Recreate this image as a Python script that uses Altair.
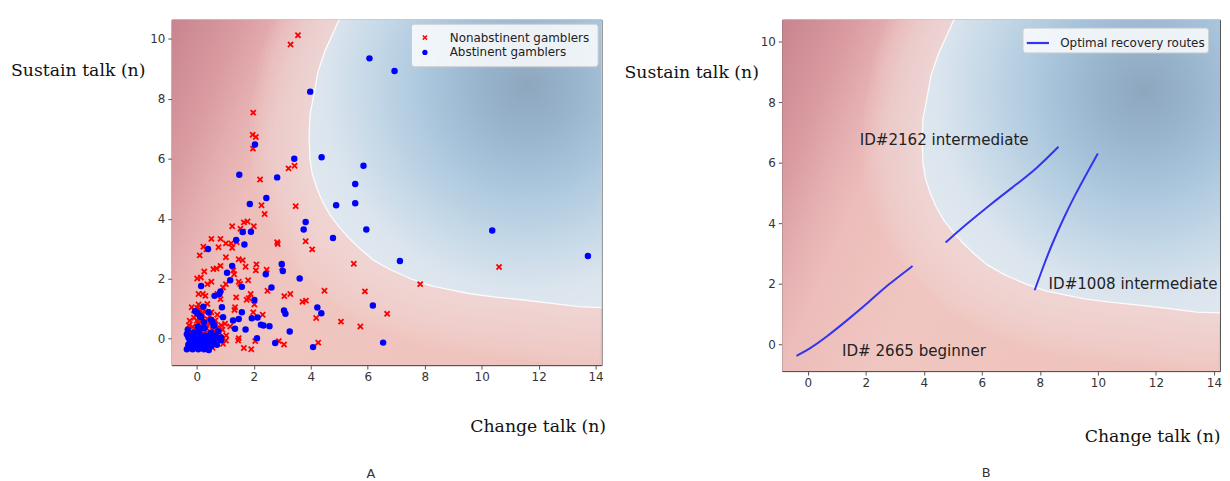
import altair as alt
import pandas as pd

# ---------------- data ----------------
X_DOMAIN = [-0.88, 14.21]
Y_DOMAIN_A = [-0.88, 10.64]
Y_DOMAIN_B = [-0.88, 10.73]
X_TICKS = [0, 2, 4, 6, 8, 10, 12, 14]
Y_TICKS = [0, 2, 4, 6, 8, 10]

# decision boundary (top to bottom)
boundary_x = [5.06, 4.8, 4.5, 4.25, 4.12, 3.97, 3.94, 3.97, 4.05, 4.22, 4.42, 4.68, 5.0,
              5.35, 5.75, 6.2, 6.8, 7.5, 8.2, 8.9, 9.6, 10.5, 11.4, 12.4, 13.4, 14.21]
boundary_y = [10.78, 10.23, 9.6, 8.9, 8.2, 7.45, 6.7, 6.0, 5.5, 5.0, 4.55, 4.12, 3.72,
              3.35, 2.98, 2.62, 2.3, 2.0, 1.77, 1.63, 1.5, 1.39, 1.3, 1.19, 1.07, 1.04]
BLUE_CENTER = [11.6, 8.4]

nonab_x = [3.55, 3.29, 1.98, 1.96, 2.07, 1.97, 3.22, 3.43, 2.22, 2.27, 2.38, 3.47, 3.82, 4.05,
           2.82, 2.84, 5.51, 10.61, 7.84, 5.90, 4.48, 3.83, 3.71, 3.28, 3.07, 6.68, 4.19, 5.06,
           5.74, 4.26, 3.06, 2.88, 1.91, 1.65, 2.05, 1.47, 1.45, 2.31, 2.99, 2.45, 2.09, 2.07,
           2.48, 1.89, 1.82, 1.75, 1.47, 1.52, 1.80, 1.71, 1.47, 1.61, 1.31, 1.28, 1.38, 1.34,
           1.02, 0.99, 1.17, 1.32, 2.02, 1.98, 1.24, 1.40, 1.20, 1.02, 1.61, 1.53, 1.65, 1.78,
           1.24, 2.00, 1.02, 0.51, 0.83, 0.76, 0.23, 0.34, 0.10, 0.83, 0.69, 0.58, 0.26, 0.01,
           0.14, 0.37, 0.51, 0.21, 0.06, 0.30, 0.72, 0.92, 0.83, -0.18, 0.06, 0.10, 0.37, 0.51,
           0.72, 0.65, 0.23, 0.44, 0.72, 0.85, 1.03, 1.02, 0.92,
           -0.25, -0.10, 0.00, 0.10, 0.20, 0.30, 0.05, -0.15, 0.15, 0.35, 0.45, 0.55, 0.60, 0.50,
           0.25, -0.05, -0.30, -0.20, 0.10, 0.40, 0.70, 0.80, 0.65, 0.55, 0.35, 0.15, -0.05, -0.30,
           0.30, 0.20, -0.10, 0.45, 0.00, 0.25, -0.20, 0.50, 0.75, 0.90, 0.85, 0.60, 0.12, -0.28,
           0.38, 0.02, 0.18]
nonab_y = [10.12, 9.81, 7.54, 6.80, 6.73, 6.34, 5.68, 5.77, 5.31, 4.45, 4.16, 4.42, 3.25, 2.98,
           3.22, 3.16, 2.50, 2.39, 1.82, 1.58, 1.60, 1.27, 1.23, 1.49, 1.42, 0.83, 0.69, 0.57,
           0.41, -0.13, -0.19, -0.08, -0.35, -0.31, -0.08, 0.02, -0.06, 0.80, 2.37, 2.30, 2.48, 2.28,
           1.60, 1.49, 1.35, 1.30, 1.90, 1.83, 1.95, 2.40, 2.65, 2.62, 2.15, 2.28, 1.38, 1.05,
           1.82, 0.50, 0.41, 0.96, 1.14, 0.88, 3.03, 3.22, 3.18, 3.18, 3.58, 3.67, 3.88, 3.91,
           3.75, 3.75, 2.72, 3.33, 3.33, 3.05, 3.07, 2.98, 2.78, 2.43, 2.34, 2.32, 2.24, 2.01,
           2.04, 1.82, 1.90, 1.49, 1.49, 1.43, 1.49, 1.71, 1.32, 1.05, 1.14, 0.99, 1.16, 0.88,
           0.80, 0.61, 0.17, -0.06, -0.17, -0.06, 0.11, -0.06, -0.17,
           0.60, 0.70, 0.85, 0.75, 0.65, 0.55, 0.50, 0.40, 0.40, 0.35, 0.50, 0.30, 0.15, 0.10,
           0.25, 0.30, 0.20, 0.10, 0.15, 0.20, 0.35, 0.20, -0.20, -0.30, -0.30, -0.25, -0.30, -0.30,
           0.90, 1.00, 0.95, 0.75, 0.60, 0.45, 0.25, -0.15, 0.05, 0.30, 0.45, 0.55, 0.55, 0.45,
           0.65, 1.02, 0.85]

ab_x = [6.06, 6.94, 3.98, 2.04, 3.42, 4.38, 5.85, 1.49, 2.82, 5.56, 4.89, 5.56, 1.86, 2.44,
        3.82, 3.75, 5.95, 10.37, 4.78, 1.61, 1.90, 1.38, 1.67, 0.39, 13.73, 7.13, 2.98, 3.02,
        1.24, 1.06, 2.42, 3.61, 1.17, 0.15, 1.58, 2.62, 0.83, 0.79, 0.62, 2.02, 6.18, 4.23,
        4.37, 3.06, 3.11, 1.58, 1.47, 1.93, 2.13, 2.25, 2.34, 2.55, 1.34, 1.71, 3.26, 2.11,
        6.54, 2.75, 4.08, 0.23, 0.41, 0.92, 0.10, 0.88, 1.27,
        -0.06, 0.03, 0.27, 0.59, 0.50, 0.15, 0.85, 0.85,
        -0.35, -0.25, -0.15, -0.05, 0.05, 0.15, 0.25, 0.35, -0.30, -0.20, -0.10, 0.00, 0.10,
        0.20, 0.30, 0.40, -0.25, -0.15, -0.05, 0.05, 0.15, 0.25, 0.35, -0.30, -0.20, 0.00,
        0.10, 0.20, 0.30, -0.10, 0.05, 0.50, 0.55, 0.45, 0.60, 0.70, 0.65, 0.50, -0.32, 0.12,
        0.62, 0.42, -0.35, 0.80, 0.55, 0.25, 0.02, 0.75]
ab_y = [9.35, 8.93, 8.24, 6.48, 6.00, 6.05, 5.77, 5.47, 5.38, 5.16, 4.45, 4.52, 4.49, 4.69,
        3.89, 3.64, 3.64, 3.61, 3.36, 3.56, 3.57, 3.29, 3.14, 2.99, 2.76, 2.59, 2.49, 2.26,
        2.43, 2.20, 2.15, 2.01, 1.95, 1.76, 1.73, 1.71, 1.58, 1.49, 1.43, 1.29, 1.11, 1.04,
        0.85, 0.94, 0.83, 0.88, 0.66, 0.68, 0.71, 0.47, 0.44, 0.42, 0.33, 0.31, 0.24, 0.02,
        -0.13, -0.14, -0.28, 1.07, 0.88, 0.72, 0.77, 1.05, 0.61,
        0.92, 0.41, 0.36, 0.44, 0.63, 0.72, 0.04, -0.05,
        -0.35, -0.30, -0.35, -0.30, -0.35, -0.30, -0.35, -0.30, -0.20, -0.15, -0.20, -0.15, -0.20,
        -0.15, -0.20, -0.15, -0.05, 0.00, -0.05, 0.00, -0.05, 0.00, -0.05, 0.05, 0.10, 0.10,
        0.15, 0.05, 0.10, 0.20, 0.25, -0.25, 0.00, 0.10, -0.10, -0.20, 0.10, 0.20, 0.30, 0.35,
        0.45, -0.38, 0.15, 0.00, 0.55, 0.55, 0.85, 0.25]

GROUPS = ["Nonabstinent gamblers", "Abstinent gamblers"]

route_2665_x = [-0.39, 0.07, 0.61, 1.41, 2.09, 2.76, 3.61]
route_2665_y = [-0.38, -0.14, 0.22, 0.84, 1.39, 1.97, 2.59]
route_2162_x = [4.75, 5.45, 6.26, 7.07, 7.87, 8.64]
route_2162_y = [3.37, 3.96, 4.60, 5.20, 5.79, 6.53]
route_1008_x = [7.82, 8.08, 8.41, 8.82, 9.22, 9.62, 10.0]
route_1008_y = [1.79, 2.48, 3.30, 4.18, 4.95, 5.66, 6.31]
ROUTE_LABEL = "Optimal recovery routes"

label_text = ["ID#2162 intermediate", "ID#1008 intermediate", "ID# 2665 beginner"]
label_x = [1.79, 8.3, 1.18]
label_y = [6.76, 2.01, -0.22]

# ---------------- styles ----------------
RED_GRADIENT = {
    "gradient": "linear", "x1": 0, "y1": 0, "x2": 1, "y2": 0.35,
    "stops": [
        {"offset": 0.0, "color": "#c8848f"},
        {"offset": 0.14, "color": "#d99aa0"},
        {"offset": 0.23, "color": "#e5afb1"},
        {"offset": 0.31, "color": "#ecbdba"},
        {"offset": 0.5, "color": "#f0c6c1"},
        {"offset": 1.0, "color": "#efc3bd"},
    ],
}
BLUE_STOPS = [(0.0, "#8ea7bf"), (0.16, "#98b3cc"), (0.33, "#a9c5dc"),
              (0.51, "#c1d6e6"), (0.7, "#dce5ee"), (1.0, "#e5ebf1")]
HALO_COLOR = "#f6e0de"
HALO_WIDTHS = [8, 16, 24, 32, 40, 48, 56, 64, 72, 80, 88, 96, 104, 112, 120]


def blue_gradient(width, height, ydom):
    sx = width / (X_DOMAIN[1] - X_DOMAIN[0])
    sy = height / (ydom[1] - ydom[0])
    bx0 = min(boundary_x)
    by0 = min(boundary_y)
    W = (X_DOMAIN[1] - bx0) * sx
    H = (max(boundary_y) - by0) * sy
    S = max(W, H)
    cx = ((BLUE_CENTER[0] - bx0) * sx - (W - S) / 2) / S
    cy = ((max(boundary_y) - BLUE_CENTER[1]) * sy - (H - S) / 2) / S
    return {"gradient": "radial", "x1": cx, "y1": cy, "r1": 0, "x2": cx, "y2": cy, "r2": 1,
            "stops": [{"offset": o, "color": c} for o, c in BLUE_STOPS]}


def panel(width, height, ydom, extra_layers, xt, yt):
    xs = alt.Scale(domain=X_DOMAIN, nice=False, zero=False)
    ys = alt.Scale(domain=ydom, nice=False, zero=False)
    ax = alt.Axis(values=X_TICKS, title="Change talk (n)", titleX=xt[0], titleY=xt[1],
                  titleAlign="right", titleBaseline="middle", labelFlush=False)
    ay = alt.Axis(values=Y_TICKS, title="Sustain talk (n)", titleX=yt[0], titleY=yt[1],
                  titleAlign="right", titleBaseline="middle", titleAngle=0, labelFlush=False)
    X = alt.X("x:Q", scale=xs, axis=ax)
    Y = alt.Y("y:Q", scale=ys, axis=ay)

    bg = pd.DataFrame({"x": [X_DOMAIN[0]], "x2": [X_DOMAIN[1]],
                       "y": [ydom[0]], "y2": [ydom[1]]})
    layers = [alt.Chart(bg).mark_rect(fill=RED_GRADIENT, strokeWidth=0).encode(
        x=X, x2=alt.X2("x2"), y=Y, y2=alt.Y2("y2"))]

    bd = pd.DataFrame({"x": boundary_x, "y": boundary_y,
                       "x2": [X_DOMAIN[1]] * len(boundary_x),
                       "order": list(range(len(boundary_x)))})
    for w in HALO_WIDTHS:
        layers.append(alt.Chart(bd).mark_line(
            stroke=HALO_COLOR, strokeWidth=w, opacity=0.09, clip=True,
            strokeCap="butt", strokeJoin="round").encode(x=X, y=Y, order="order:Q"))
    layers.append(alt.Chart(bd).mark_area(
        orient="horizontal", fill=blue_gradient(width, height, ydom), strokeWidth=0, clip=True
    ).encode(y=Y, x=X, x2=alt.X2("x2")))
    layers.append(alt.Chart(bd).mark_line(
        stroke="white", strokeWidth=1.3, opacity=0.9, clip=True).encode(
        x=X, y=Y, order="order:Q"))
    for mk in extra_layers:
        layers.append(mk(X, Y))
    return alt.layer(*layers).properties(width=width, height=height)


def scatter(X, Y):
    df = pd.DataFrame({
        "x": nonab_x + ab_x,
        "y": nonab_y + ab_y,
        "group": [GROUPS[0]] * len(nonab_x) + [GROUPS[1]] * len(ab_x),
    })
    leg = alt.Legend(title=None, orient="none", legendX=241, legendY=4,
                     fillColor="rgba(255,255,255,0.82)", strokeColor="#cccccc",
                     cornerRadius=3, padding=8, labelFont="DejaVu Sans", labelFontSize=12,
                     labelColor="#222", symbolSize=28, labelOffset=19, rowPadding=3,
                     symbolStrokeWidth=0)
    xpath = "M-1,-0.6L-0.6,-1L0,-0.4L0.6,-1L1,-0.6L0.4,0L1,0.6L0.6,1L0,0.4L-0.6,1L-1,0.6L-0.4,0Z"
    return alt.Chart(df).mark_point(filled=True, size=42, opacity=1, strokeWidth=0).encode(
        x=X, y=Y,
        color=alt.Color("group:N", scale=alt.Scale(domain=GROUPS, range=["#ff0000", "#0000ff"]),
                        legend=leg),
        shape=alt.Shape("group:N", scale=alt.Scale(domain=GROUPS, range=[xpath, "circle"]),
                        legend=leg),
    )


def routes(X, Y):
    xs_ = route_2665_x + route_2162_x + route_1008_x
    ys_ = route_2665_y + route_2162_y + route_1008_y
    ids = (["2665"] * len(route_2665_x) + ["2162"] * len(route_2162_x)
           + ["1008"] * len(route_1008_x))
    order = (list(range(len(route_2665_x))) + list(range(len(route_2162_x)))
             + list(range(len(route_1008_x))))
    df = pd.DataFrame({"x": xs_, "y": ys_, "route": ids, "order": order,
                       "label": [ROUTE_LABEL] * len(xs_)})
    leg = alt.Legend(title=None, orient="none", legendX=242, legendY=8,
                     fillColor="rgba(255,255,255,0.82)", strokeColor="#cccccc",
                     cornerRadius=3, padding=3, labelFont="DejaVu Sans", labelFontSize=12,
                     labelColor="#222", symbolSize=500, symbolStrokeWidth=2.2, labelOffset=10)
    return alt.Chart(df).mark_line(strokeWidth=2, clip=True, interpolate="basis").encode(
        x=X, y=Y, detail="route:N", order="order:Q",
        color=alt.Color("label:N", scale=alt.Scale(domain=[ROUTE_LABEL], range=["#3434ee"]),
                        legend=leg),
    )


def labels(X, Y):
    df = pd.DataFrame({"x": label_x, "y": label_y, "text": label_text})
    return alt.Chart(df).mark_text(align="left", baseline="middle", font="DejaVu Sans",
                                   fontSize=15.2, color="#222").encode(x=X, y=Y, text="text:N")


def caption(t, dx, off):
    return alt.TitleParams(text=t, orient="bottom", anchor="middle", frame="group",
                           offset=off, dx=dx, font="DejaVu Sans", fontSize=13,
                           fontWeight="normal", color="#333")


pA = panel(433, 348, Y_DOMAIN_A, [scatter], (437, 62), (-27, 51)).properties(
    title=caption("A", -16, 33))
pB = panel(441, 354, Y_DOMAIN_B, [routes, labels], (441, 66), (-24, 53)).properties(
    title=caption("B", -15, 22))

chart = alt.hconcat(pA, pB, spacing=17).resolve_scale(
    color="independent", shape="independent").resolve_legend(
    color="independent", shape="independent").properties(
    padding={"left": 2, "top": 9, "right": 0, "bottom": 0}
).configure_view(stroke="#555555", strokeWidth=1).configure_axis(
    grid=False, domainColor="#555555", tickColor="#555555", tickSize=4,
    labelFont="DejaVu Sans", labelFontSize=12, labelColor="#333333", labelPadding=3,
    titleFont="DejaVu Serif", titleFontSize=17.4, titleFontWeight="normal", titleColor="#111111"
)

chart.save("out.html", embed_options={"renderer": "svg", "actions": False})
